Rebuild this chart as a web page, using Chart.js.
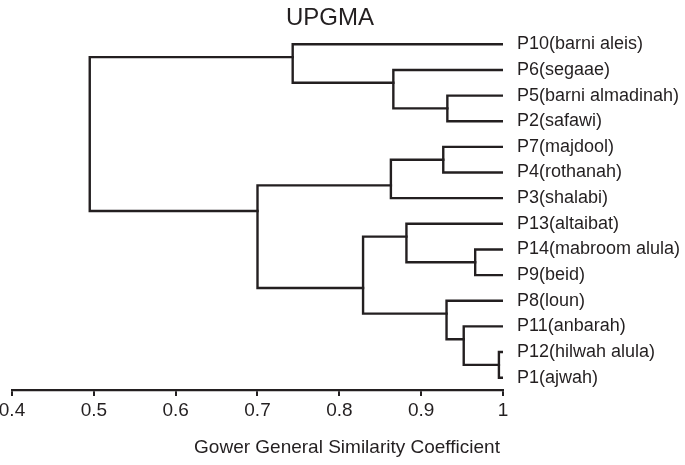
<!DOCTYPE html>
<html>
<head>
<meta charset="utf-8">
<title>UPGMA</title>
<script src="https://cdn.jsdelivr.net/npm/chart.js@4.4.1/dist/chart.umd.min.js"></script>
<style>
  html, body { margin: 0; padding: 0; background: #fff; }
  #wrap { width: 685px; height: 465px; }
</style>
</head>
<body>
<div id="wrap"><canvas id="tree" width="685" height="465"></canvas></div>
<script>
// leaves, top to bottom
const leaves = [
  'P10(barni aleis)', 'P6(segaae)', 'P5(barni almadinah)', 'P2(safawi)',
  'P7(majdool)', 'P4(rothanah)', 'P3(shalabi)', 'P13(altaibat)',
  'P14(mabroom alula)', 'P9(beid)', 'P8(loun)', 'P11(anbarah)',
  'P12(hilwah alula)', 'P1(ajwah)'
];
// merges: ids < 14 are leaves, merge k gets id 14 + k
const mergeA   = [2, 1, 0, 4, 17, 8, 7, 12, 11, 10, 20, 18, 16];
const mergeB   = [3, 14, 15, 5, 6, 9, 19, 13, 21, 22, 23, 24, 25];
const mergeSim = [0.932, 0.866, 0.743, 0.927, 0.863, 0.966, 0.882, 0.995, 0.952, 0.931, 0.829, 0.700, 0.495];
const xTicks = [0.4, 0.5, 0.6, 0.7, 0.8, 0.9, 1];
const xTickLabels = ['0.4', '0.5', '0.6', '0.7', '0.8', '0.9', '1'];

const INK = '#231f20';
const FONT = "'Liberation Sans', Arial, Helvetica, sans-serif";

// node layout: x = similarity, y = midpoint between the two children's facing leaves
const nodes = leaves.map((_, i) => ({ x: 1, y: i, first: i, last: i }));
mergeA.forEach((a, k) => {
  const A = nodes[a], B = nodes[mergeB[k]];
  nodes.push({ x: mergeSim[k], y: (A.last + B.first) / 2, first: A.first, last: B.last });
});

const datasets = mergeA.map((a, k) => {
  const A = nodes[a], B = nodes[mergeB[k]], x = mergeSim[k];
  return {
    data: [{ x: A.x, y: A.y }, { x: x, y: A.y }, { x: x, y: B.y }, { x: B.x, y: B.y }],
    showLine: true,
    borderColor: INK,
    borderWidth: 2.4,
    pointRadius: 0,
    borderJoinStyle: 'miter',
    borderCapStyle: 'square'
  };
});

const textPlugin = {
  id: 'texts',
  afterDraw(chart) {
    const ctx = chart.ctx;
    ctx.save();
    ctx.fillStyle = INK;
    ctx.textAlign = 'center';
    ctx.textBaseline = 'alphabetic';
    ctx.font = '24px ' + FONT;
    ctx.fillText('UPGMA', 330, 25);
    ctx.font = '19px ' + FONT;
    ctx.fillText('Gower General Similarity Coefficient', 347, 453);
    ctx.restore();
  }
};

new Chart(document.getElementById('tree'), {
  type: 'scatter',
  data: { datasets },
  plugins: [textPlugin],
  options: {
    responsive: false,
    animation: false,
    layout: { padding: { left: 12, top: 18.65, right: 0, bottom: 0 } },
    plugins: { legend: { display: false }, tooltip: { enabled: false }, title: { display: false } },
    scales: {
      x: {
        type: 'linear',
        position: 'bottom',
        min: 0.4,
        max: 1,
        afterBuildTicks: s => { s.ticks = xTicks.map(v => ({ value: v })); },
        afterFit: s => { s.height = 75; s.paddingLeft = 0; s.paddingRight = 0; },
        ticks: {
          callback: (v, i) => xTickLabels[i],
          color: INK,
          padding: 3,
          maxRotation: 0,
          font: { family: FONT, size: 19 }
        },
        grid: { drawOnChartArea: false, drawTicks: true, tickLength: 6, color: INK, lineWidth: 2 },
        border: { display: true, color: INK, width: 2.2 }
      },
      y: {
        type: 'linear',
        position: 'right',
        reverse: true,
        min: -1,
        max: 13.48,
        afterBuildTicks: s => { s.ticks = leaves.map((_, i) => ({ value: i })); },
        afterFit: s => { s.width = 182; s.paddingTop = 0; s.paddingBottom = 0; },
        ticks: {
          callback: (v, i) => leaves[i],
          color: INK,
          padding: 14,
          crossAlign: 'near',
          font: { family: FONT, size: 18 }
        },
        grid: { display: false, drawTicks: false },
        border: { display: false }
      }
    }
  }
});
</script>
</body>
</html>
